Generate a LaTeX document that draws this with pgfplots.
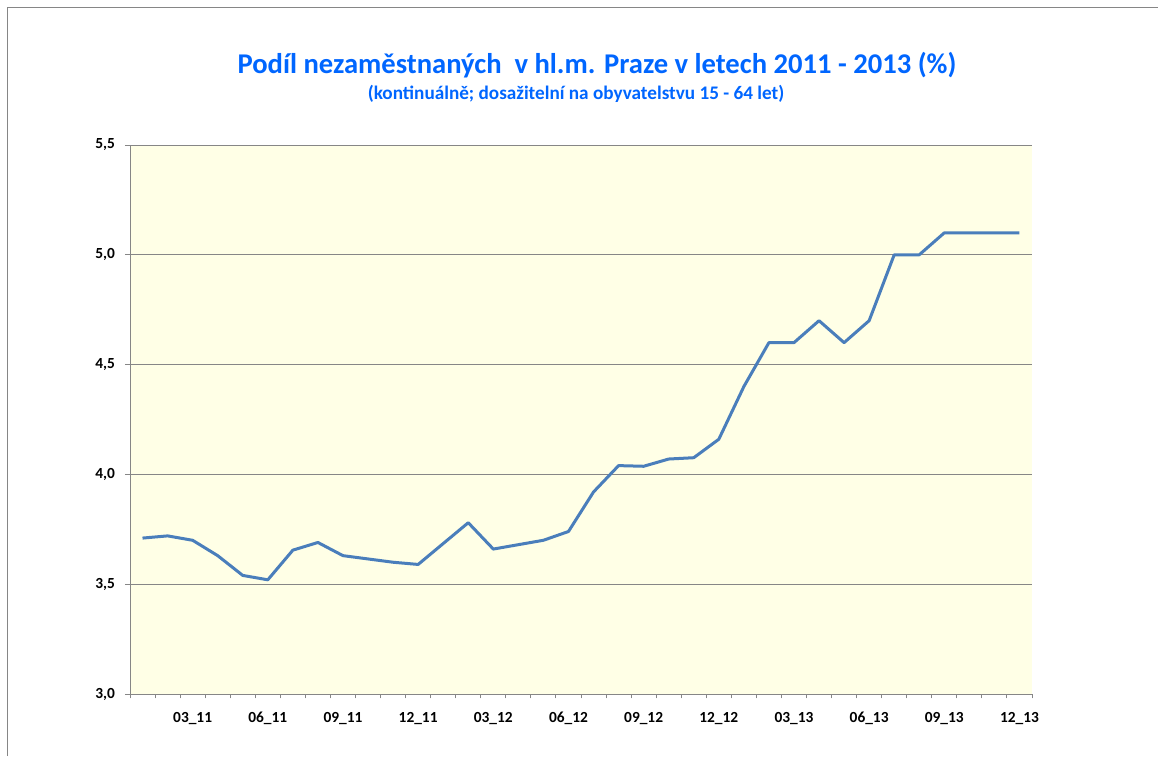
\documentclass[border=0pt]{standalone}
\usepackage{pgfplots}
\pgfplotsset{compat=1.18}
\usepackage{fontspec}
\setmainfont{Carlito}
\definecolor{titleblue}{RGB}{0,102,255}
\definecolor{lineblue}{RGB}{74,126,187}
\definecolor{plotbg}{RGB}{255,255,230}
\definecolor{gridgray}{RGB}{134,134,134}
\definecolor{framegray}{RGB}{134,134,134}
\pgfplotstableread{
m v
1 3.71
2 3.72
3 3.70
4 3.63
5 3.54
6 3.52
7 3.655
8 3.69
9 3.63
10 3.615
11 3.60
12 3.59
13 3.685
14 3.78
15 3.66
16 3.68
17 3.70
18 3.74
19 3.92
20 4.04
21 4.037
22 4.07
23 4.076
24 4.16
25 4.40
26 4.60
27 4.60
28 4.70
29 4.60
30 4.70
31 5.00
32 5.00
33 5.10
34 5.10
35 5.10
36 5.10
}\datatable
\begin{document}
\begin{tikzpicture}
\path[use as bounding box] (0pt,0pt) rectangle (579pt,378pt);
\fill[white] (0pt,0pt) rectangle (579pt,378pt);
\draw[framegray, line width=0.6pt] (3.75pt,0pt) -- (3.75pt,374.25pt) -- (579pt,374.25pt);
\node[titleblue, font=\fontsize{14.3}{16}\selectfont\bfseries] at (298.5pt,345.5pt) {Podíl nezaměstnaných\ \ v hl.m. Praze v letech 2011 - 2013 (\%)};
\node[titleblue, font=\fontsize{9.6}{11}\selectfont\bfseries] at (288pt,331pt) {(kontinuálně; dosažitelní na obyvatelstvu 15 - 64 let)};
\begin{axis}[
  at={(65pt,31pt)}, anchor=south west,
  scale only axis, width=451pt, height=274.5pt,
  xmin=0.5, xmax=36.5, ymin=3, ymax=5.5,
  axis background/.style={fill=plotbg},
  axis lines*=left,
  axis line style={gridgray, line width=0.5pt},
  xtick={3,6,...,36},
  xticklabels={03\_11,06\_11,09\_11,12\_11,03\_12,06\_12,09\_12,12\_12,03\_13,06\_13,09\_13,12\_13},
  minor xtick={0.5,1.5,...,36.5},
  major x tick style={draw=none},
  minor x tick style={draw=gridgray, line width=0.5pt},
  ytick={3,3.5,...,5.5},
  y tick style={draw=gridgray, line width=0.5pt},
  tick align=outside,
  major tick length=2.5pt,
  minor tick length=2.2pt,
  ymajorgrids,
  grid style={gridgray, line width=0.5pt},
  tick label style={font=\fontsize{7.7}{9}\selectfont\bfseries, text=black},
  /pgf/number format/assume math mode=true,
  /pgf/number format/use comma,
  /pgf/number format/fixed,
  /pgf/number format/fixed zerofill,
  /pgf/number format/precision=1,
  yticklabel style={xshift=-1.5pt},
  xticklabel style={yshift=-3pt},
  clip=false,
]
\addplot[lineblue, line width=1.5pt, line join=round] table[x=m, y=v] {\datatable};
\end{axis}
\end{tikzpicture}
\end{document}
